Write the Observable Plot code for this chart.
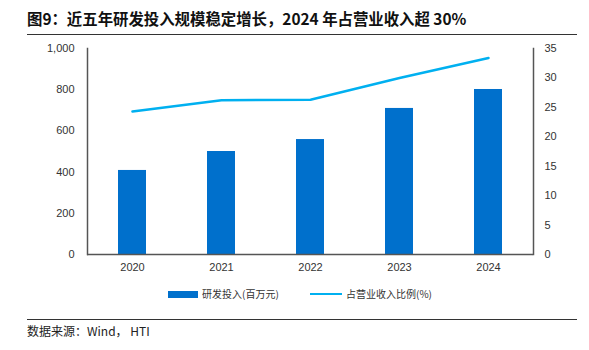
<!DOCTYPE html>
<html><head><meta charset="utf-8">
<script src="https://cdn.jsdelivr.net/npm/d3@7"></script>
<script src="https://cdn.jsdelivr.net/npm/@observablehq/plot@0.6"></script>
<style>
body{margin:0;background:#fff;font-family:"Liberation Sans","Noto Sans CJK SC",sans-serif;}
#wrap{position:relative;width:589px;height:350px;overflow:hidden;background:#fff;}
#title{position:absolute;left:27px;top:7px;font-family:"Noto Sans CJK SC",sans-serif;font-weight:bold;font-size:15.4px;color:#111;white-space:nowrap;}
#rule1{position:absolute;left:27px;top:34px;width:550px;height:0;border-top:1.5px solid #333;}
#chart{position:absolute;left:0;top:38px;}
#legend{position:absolute;top:288px;left:0;width:589px;font-size:10px;color:#333;font-family:"Noto Sans CJK SC",sans-serif;}
#rule2{position:absolute;left:27px;top:319px;width:550px;height:0;border-top:1.2px solid #333;}
#foot{position:absolute;left:27px;top:322px;font-size:12px;color:#222;font-family:"Noto Sans CJK SC",sans-serif;white-space:nowrap;}
</style></head>
<body>
<div id="wrap">
<div id="title">图9：近五年研发投入规模稳定增长，2024 年占营业收入超 30%</div>
<div id="rule1"></div>
<div id="chart"></div>
<div id="legend"></div>
<div id="rule2"></div>
<div id="foot">数据来源：Wind， HTI</div>
</div>
<script>
const years = ["2020","2021","2022","2023","2024"];
const rdSpend = [408, 500, 558, 709, 801];
const rdRatio = [24.3, 26.2, 26.3, 30.0, 33.4];
const leftTicks = [0,200,400,600,800,1000];
const rightTicks = [0,5,10,15,20,25,30,35];
const seriesNames = ["研发投入(百万元)","占营业收入比例(%)"];

const barColor = "#0070CC";
const lineColor = "#00B0F0";
const rMax = 35, lMax = 1000;
const toLeft = v => v * lMax / rMax;

const rows = years.map((y,i)=>({year:y, spend:rdSpend[i], ratio:rdRatio[i]}));

const chart = Plot.plot({
  width: 589, height: 247,
  marginTop: 10, marginBottom: 31, marginLeft: 87, marginRight: 56,
  style:{fontFamily:"Liberation Sans, Arial, sans-serif", fontSize:"11px", color:"#333", background:"transparent"},
  x:{domain: years, paddingInner: 0.69, paddingOuter: 0.345, label:null},
  y:{domain:[0,lMax], label:null},
  marks:[
    Plot.barY(rows,{x:"year", y:"spend", fill:barColor}),
    Plot.line(rows,{x:"year", y:d=>toLeft(d.ratio), stroke:lineColor, strokeWidth:2.5}),
    Plot.axisY(leftTicks,{anchor:"left", tickSize:0, tickPadding:13, tickFormat:d3.format(","), label:null, fontSize:11}),
    Plot.axisY(rightTicks.map(toLeft),{anchor:"right", tickSize:0, tickPadding:11, tickFormat:d=>String(Math.round(d*rMax/lMax)), label:null, fontSize:11}),
    Plot.axisX({tickSize:0, tickPadding:9, label:null, fontSize:11}),
    Plot.frame({anchor:"left", stroke:"#555", strokeWidth:1.5}),
    Plot.frame({anchor:"right", stroke:"#555", strokeWidth:1.5}),
    Plot.ruleY([0],{stroke:"#555", strokeWidth:1.5})
  ]
});
document.getElementById("chart").appendChild(chart);

const lg = document.getElementById("legend");
lg.innerHTML = `
<span style="position:absolute;left:168px;top:3px;width:30px;height:7px;background:${barColor}"></span>
<span style="position:absolute;left:202px;top:-2px;white-space:nowrap">${seriesNames[0]}</span>
<span style="position:absolute;left:310px;top:5px;width:32px;height:2px;background:${lineColor}"></span>
<span style="position:absolute;left:346px;top:-2px;white-space:nowrap">${seriesNames[1]}</span>`;
</script>
</body></html>
